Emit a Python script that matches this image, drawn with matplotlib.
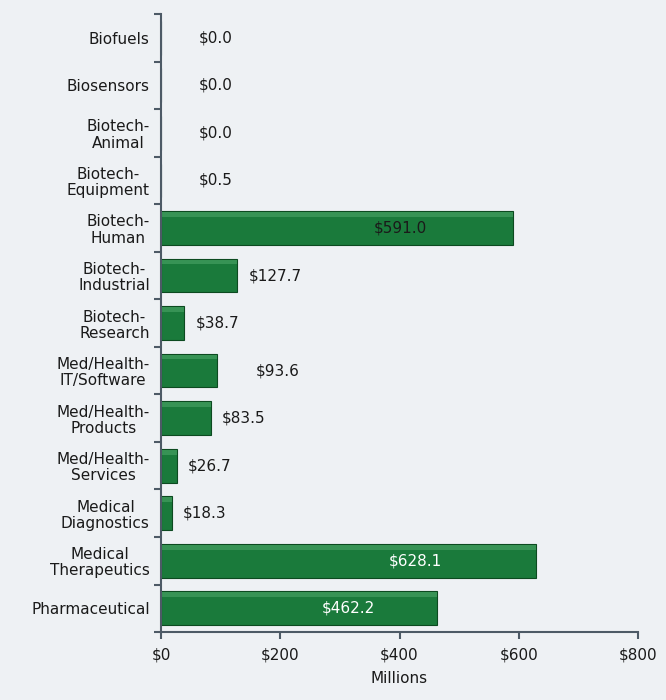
import matplotlib.pyplot as plt
import numpy as np

# categories and funding (millions of dollars)
categories = ['Biofuels', 'Biosensors', 'Biotech-\nAnimal', 'Biotech-\nEquipment',
              'Biotech-\nHuman', 'Biotech-\nIndustrial', 'Biotech-\nResearch',
              'Med/Health-\nIT/Software', 'Med/Health-\nProducts', 'Med/Health-\nServices',
              'Medical\nDiagnostics', 'Medical\nTherapeutics', 'Pharmaceutical']
values = [0.0, 0.0, 0.0, 0.5, 591.0, 127.7, 38.7, 93.6, 83.5, 26.7, 18.3, 628.1, 462.2]
xticks = [0, 200, 400, 600, 800]

bg = '#eef1f4'
green = '#1a7a3b'
spine_c = '#4d5a66'

fig = plt.figure(figsize=(6.66, 7.0), dpi=100, facecolor=bg)
ax = fig.add_axes([0.2417, 0.097, 0.7163, 0.883], facecolor=bg)

ind = np.arange(len(categories))
h = 0.71
ax.barh(ind, values, height=h, color=green, edgecolor='#0c4a20', linewidth=0.8)
# lighter bevel on top of each bar
ax.barh(ind - h / 2 + 0.07, values, height=0.1, color='#3f9a5c', linewidth=0, alpha=0.8)

for i, v in enumerate(values):
    lab = '${:.1f}'.format(v)
    if v > 300:
        c = '#1a1a1a' if categories[i] == 'Biotech-\nHuman' else 'white'
        ax.text(v * 0.68, i, lab, ha='center', va='center', fontsize=11, color=c)
    else:
        x = v + 19 if v >= 1 else 64
        if categories[i] == 'Med/Health-\nIT/Software':
            x = v + 65
        ax.text(x, i, lab, ha='left', va='center', fontsize=11, color='#1a1a1a')

ax.set_xlim(0, 800)
ax.set_ylim(len(categories) - 0.5, -0.5)
ax.set_xticks(xticks)
ax.set_xticklabels(['${}'.format(t) for t in xticks], fontsize=11, color='#1a1a1a')
ax.set_yticks(ind)
ax.set_yticklabels(categories, fontsize=11, color='#1a1a1a', linespacing=1.1,
                   multialignment='center')
ax.set_yticks(np.arange(-0.5, len(categories), 1), minor=True)
ax.tick_params(axis='y', which='major', length=0, pad=8)
ax.tick_params(axis='y', which='minor', length=5, color=spine_c, width=1.5)
ax.tick_params(axis='x', length=5, color=spine_c, width=1.5, pad=6)
ax.set_xlabel('Millions', fontsize=11, color='#1a1a1a', labelpad=6)

for s in ['top', 'right']:
    ax.spines[s].set_visible(False)
for s in ['left', 'bottom']:
    ax.spines[s].set_color(spine_c)
    ax.spines[s].set_linewidth(1.5)

plt.savefig('out.png', dpi=100, facecolor=bg)
